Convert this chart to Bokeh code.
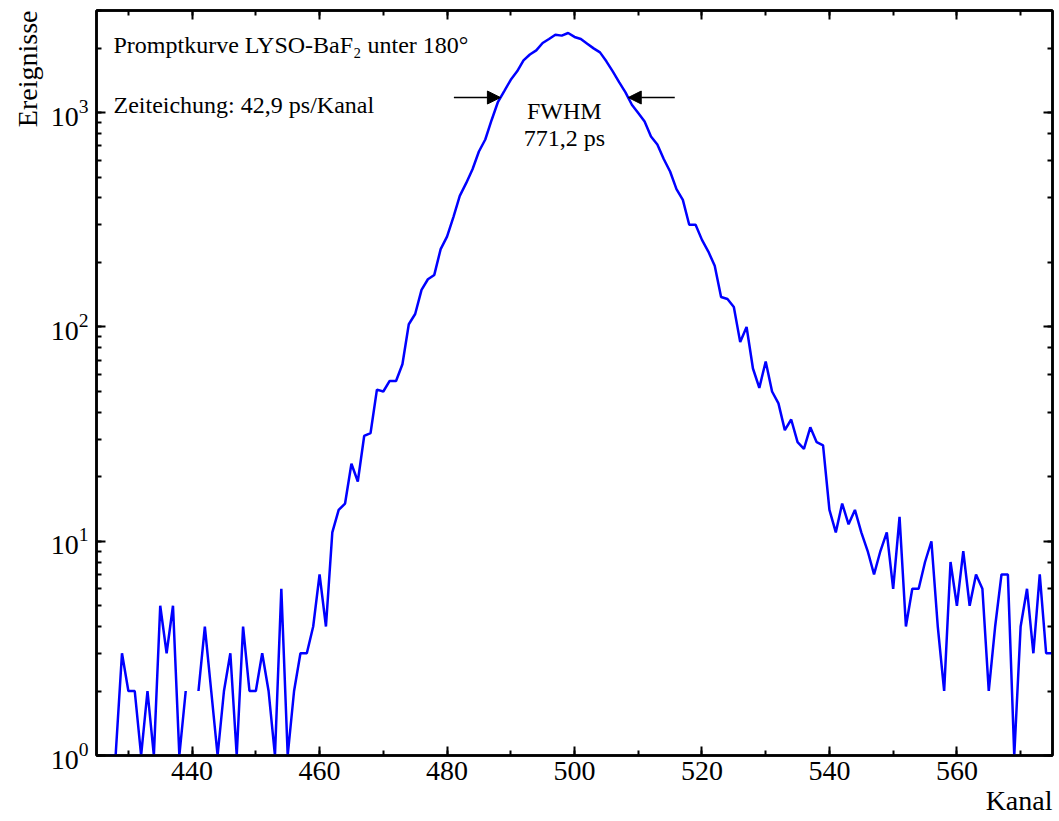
import numpy as np
from bokeh.plotting import figure
from bokeh.models import (LinearAxis, LogAxis, SingleIntervalTicker, LogTicker, Label, Title,
                          Arrow, NormalHead, CustomJSTickFormatter, ColumnDataSource)
from bokeh.embed import file_html
from bokeh.resources import INLINE

# ---------------- data ----------------
first_channel = 424
counts = [
    2, 2, 0, 1, 1, 3, 2, 2, 1, 2,          # 424-433
    1, 5, 3, 5, 1, 2, 0, 2, 4, 2,          # 434-443
    1, 2, 3, 1, 4, 2, 2, 3, 2, 1,          # 444-453
    6, 1, 2, 3, 3, 4, 7, 4, 11, 14,        # 454-463
    15, 23, 19, 31, 32, 51, 50, 56, 56, 67,  # 464-473
    103, 115, 149, 167, 175, 231, 264, 326, 409, 469,  # 474-483
    545, 659, 750, 925, 1125, 1265, 1425, 1560, 1755, 1870,  # 484-493
    1954, 2117, 2210, 2313, 2290, 2355, 2258, 2210, 2100, 1997,  # 494-503
    1913, 1738, 1560, 1390, 1244, 1090, 996, 910, 775, 711,  # 504-513
    608, 532, 440, 392, 300, 300, 255, 225, 193, 138,  # 514-523
    135, 124, 85, 100, 64, 52, 69, 50, 44, 33,  # 524-533
    37, 29, 27, 34, 29, 28, 14, 11, 15, 12,  # 534-543
    14, 11, 9, 7, 9, 11, 6, 13, 4, 6,      # 544-553
    6, 8, 10, 4, 2, 8, 5, 9, 5, 7,         # 554-563
    6, 2, 4, 7, 7, 1, 4, 6, 3, 7,          # 564-573
    3, 3,                                  # 574-575
]
channels = list(range(first_channel, first_channel + len(counts)))

x_tick_interval = 20
title_text = "Promptkurve LYSO-BaF\u2082 unter 180\u00b0"
calib_text = "Zeiteichung: 42,9 ps/Kanal"
fwhm_label = "FWHM"
fwhm_value = "771,2 ps"
x_label = "Kanal"
y_label = "Ereignisse"

SERIF = "Liberation Serif"

# zero counts cannot be shown on a log axis -> gaps
y_plot = np.array(counts, dtype=float)
y_plot[y_plot <= 0] = np.nan
src = ColumnDataSource(dict(x=channels, y=y_plot))

p = figure(frame_width=956, frame_height=745,
           x_range=(425, 575), y_range=(1, 3000), y_axis_type="log",
           output_backend="svg", toolbar_location=None,
           min_border_left=96, min_border_right=7, min_border_top=10, min_border_bottom=66,
           background_fill_color="white", border_fill_color="white")
p.xgrid.visible = False
p.ygrid.visible = False
p.outline_line_color = "black"
p.outline_line_width = 2.5


def style(ax, labels=True):
    ax.axis_line_width = 2.5
    ax.axis_line_color = "black"
    ax.major_tick_in = 9
    ax.major_tick_out = 0
    ax.minor_tick_in = 5
    ax.minor_tick_out = 0
    ax.major_tick_line_width = 2
    ax.minor_tick_line_width = 2
    ax.major_tick_line_color = "black"
    ax.minor_tick_line_color = "black"
    ax.major_label_text_font = SERIF
    ax.major_label_text_color = "black"
    if labels:
        ax.major_label_text_font_size = "28px"
        ax.major_label_standoff = 6
    else:
        ax.major_label_text_font_size = "0px"
        ax.major_label_standoff = 0


p.xaxis.ticker = SingleIntervalTicker(interval=x_tick_interval, num_minor_ticks=2)
style(p.xaxis[0])
style(p.yaxis[0])
p.yaxis[0].major_label_standoff = 8

top = LinearAxis(ticker=SingleIntervalTicker(interval=x_tick_interval, num_minor_ticks=2),
                 formatter=CustomJSTickFormatter(code="return ''"))
style(top, labels=False)
p.add_layout(top, "above")

right = LogAxis(ticker=LogTicker(), formatter=CustomJSTickFormatter(code="return ''"))
style(right, labels=False)
p.add_layout(right, "right")

# axis titles as side-panel titles (aligned to the axis ends)
p.add_layout(Title(text=x_label, align="right", text_font=SERIF, text_font_size="28px",
                   text_font_style="normal", text_color="black", standoff=0, offset=0),
             "below")
p.add_layout(Title(text=y_label, align="right", text_font=SERIF, text_font_size="28px",
                   text_font_style="normal", text_color="black", standoff=10, offset=0),
             "left")

p.line("x", "y", source=src, line_color="#0000ff", line_width=2.5)

# ---------------- FWHM arrows (from the data's half maximum) ----------------
yc = np.array(counts, dtype=float)
ip = int(np.argmax(yc))
half = yc[ip] / 2.0
il = int(np.where(yc[:ip] < half)[0][-1])
xl = channels[il] + (half - yc[il]) / (yc[il + 1] - yc[il])
ir = ip + int(np.where(yc[ip:] < half)[0][0])
xr = channels[ir - 1] + (yc[ir - 1] - half) / (yc[ir - 1] - yc[ir])
arrow_len = 7.3

for xs, xe in ((xl - arrow_len, xl), (xr + arrow_len, xr)):
    p.add_layout(Arrow(x_start=xs, y_start=half, x_end=xe, y_end=half,
                       line_color="black", line_width=1.5,
                       end=NormalHead(size=13, fill_color="black", line_color="black", line_width=1)))

xmid = (xl + xr) / 2.0
p.add_layout(Label(x=xmid, y=645, x_units="data", y_units="screen", text=fwhm_label,
                   text_align="center", text_baseline="alphabetic",
                   text_font=SERIF, text_font_size="24px", text_color="black"))
p.add_layout(Label(x=xmid, y=618, x_units="data", y_units="screen", text=fwhm_value,
                   text_align="center", text_baseline="alphabetic",
                   text_font=SERIF, text_font_size="24px", text_color="black"))

p.add_layout(Label(x=17, y=711, x_units="screen", y_units="screen", text=title_text,
                   text_align="left", text_baseline="alphabetic",
                   text_font=SERIF, text_font_size="24px", text_color="black"))
p.add_layout(Label(x=17, y=651, x_units="screen", y_units="screen", text=calib_text,
                   text_align="left", text_baseline="alphabetic",
                   text_font=SERIF, text_font_size="24px", text_color="black"))

open("out.html", "w").write(file_html(p, INLINE))
